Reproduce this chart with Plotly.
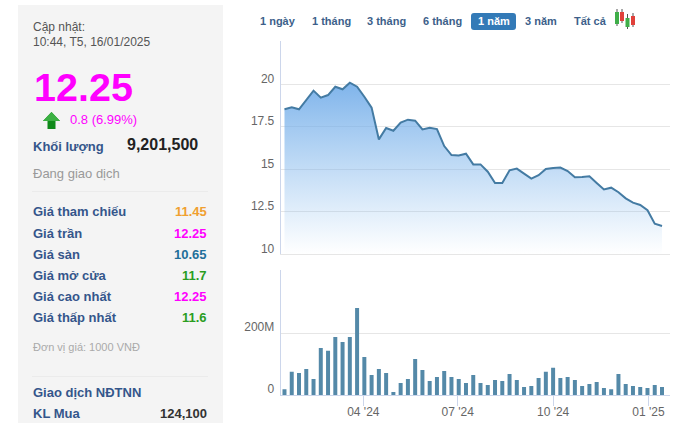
import plotly.graph_objects as go

W, H = 678, 423

# weekly sessions
dates = [
    "2024-01-16", "2024-01-23", "2024-01-30", "2024-02-06", "2024-02-13", "2024-02-20",
    "2024-02-27", "2024-03-05", "2024-03-12", "2024-03-19", "2024-03-26", "2024-04-02",
    "2024-04-09", "2024-04-16", "2024-04-23", "2024-04-30", "2024-05-07", "2024-05-14",
    "2024-05-21", "2024-05-28", "2024-06-04", "2024-06-11", "2024-06-18", "2024-06-25",
    "2024-07-02", "2024-07-09", "2024-07-16", "2024-07-23", "2024-07-30", "2024-08-06",
    "2024-08-13", "2024-08-20", "2024-08-27", "2024-09-03", "2024-09-10", "2024-09-17",
    "2024-09-24", "2024-10-01", "2024-10-08", "2024-10-15", "2024-10-22", "2024-10-29",
    "2024-11-05", "2024-11-12", "2024-11-19", "2024-11-26", "2024-12-03", "2024-12-10",
    "2024-12-17", "2024-12-24", "2024-12-31", "2025-01-07", "2025-01-14",
]
prices = [
    18.53, 18.65, 18.53, 19.08, 19.63, 19.22, 19.37, 19.86, 19.71, 20.10, 19.86,
    19.27, 18.63, 16.76, 17.43, 17.27, 17.75, 17.92, 17.86, 17.35, 17.45, 17.37,
    16.37, 15.84, 15.82, 15.92, 15.29, 15.29, 14.86, 14.20, 14.20, 14.94, 15.04,
    14.75, 14.45, 14.65, 15.02, 15.08, 15.10, 14.90, 14.53, 14.55, 14.59, 14.20,
    13.82, 13.92, 13.65, 13.29, 13.04, 12.90, 12.59, 11.80, 11.67,
]
volumes = [
    19e6, 75e6, 71e6, 84e6, 52e6, 152e6, 143e6, 188e6, 172e6, 188e6, 282e6,
    123e6, 65e6, 84e6, 71e6, 10e6, 39e6, 52e6, 117e6, 81e6, 45e6, 58e6,
    78e6, 58e6, 52e6, 39e6, 65e6, 39e6, 32e6, 49e6, 45e6, 68e6, 49e6,
    26e6, 29e6, 55e6, 75e6, 88e6, 55e6, 58e6, 49e6, 29e6, 36e6, 42e6,
    23e6, 19e6, 68e6, 36e6, 29e6, 26e6, 23e6, 32e6, 26e6,
]
price_ticks = [10, 12.5, 15, 17.5, 20, 22.5]
price_labels = ["10", "12.5", "15", "17.5", "20", ""]
volume_ticks = [0, 200e6, 402e6]
volume_labels = ["0", "200M", ""]

range_buttons = ["1 ngày", "1 tháng", "3 tháng", "6 tháng", "1 năm", "3 năm", "Tất cả"]
button_x = [278, 331, 386, 442, 493.5, 541, 590]

row_labels = ["Giá tham chiếu", "Giá trần", "Giá sàn", "Giá mở cửa", "Giá cao nhất", "Giá thấp nhất"]
row_values = ["11.45", "12.25", "10.65", "11.7", "12.25", "11.6"]
row_colors = ["#f0a030", "#ff00ff", "#1f6f9a", "#2a9d1f", "#ff00ff", "#2a9d1f"]
row_y = [212, 233, 254, 275, 296, 317]

FONT = "Liberation Sans"
LABEL = "#34568b"


def px(x):
    return x / W


def py(y):
    return 1 - y / H


def label(x, y, text, size=13, color="#333", bold=False, anchor="left"):
    if bold:
        text = f"<b>{text}</b>"
    return dict(
        x=px(x), y=py(y), xref="paper", yref="paper", text=text, showarrow=False,
        xanchor=anchor, yanchor="middle", align=anchor, borderpad=0,
        font=dict(family=FONT, size=size, color=color),
    )


def rect(x0, y0, x1, y1, color):
    return dict(
        type="rect", xref="paper", yref="paper", x0=px(x0), x1=px(x1), y0=py(y0), y1=py(y1),
        fillcolor=color, line_width=0, layer="below",
    )


def poly(points, color):
    d = "M" + " L".join(f"{px(x):.5f},{py(y):.5f}" for x, y in points) + " Z"
    return dict(type="path", xref="paper", yref="paper", path=d, fillcolor=color, line_width=0)


def round_rect(x0, y0, x1, y1, r, color):
    a, b, c, e = px(x0), px(x1), py(y0), py(y1)
    rx, ry = r / W, r / H
    d = (
        f"M{a+rx:.5f},{c:.5f} L{b-rx:.5f},{c:.5f} Q{b:.5f},{c:.5f} {b:.5f},{c-ry:.5f} "
        f"L{b:.5f},{e+ry:.5f} Q{b:.5f},{e:.5f} {b-rx:.5f},{e:.5f} "
        f"L{a+rx:.5f},{e:.5f} Q{a:.5f},{e:.5f} {a:.5f},{e+ry:.5f} "
        f"L{a:.5f},{c-ry:.5f} Q{a:.5f},{c:.5f} {a+rx:.5f},{c:.5f} Z"
    )
    return dict(type="path", xref="paper", yref="paper", path=d, fillcolor=color, line_width=0)


fig = go.Figure()
fig.add_trace(go.Scatter(
    x=dates, y=prices, mode="lines", xaxis="x", yaxis="y",
    line=dict(color="#447ba3", width=2),
    fill="tozeroy",
    fillgradient=dict(
        type="vertical", start=20.5, stop=10,
        colorscale=[[0, "rgba(110,170,232,0.92)"], [1, "rgba(124,181,236,0)"]],
    ),
))
fig.add_trace(go.Bar(
    x=dates, y=volumes, xaxis="x2", yaxis="y2", marker=dict(color="#5489a8", line_width=0),
))

x_range = ["2024-01-12 08:24", "2025-01-21 10:00"]
fig.update_layout(
    width=W, height=H, margin=dict(l=0, r=0, t=0, b=0, autoexpand=False),
    paper_bgcolor="white", plot_bgcolor="white", showlegend=False, bargap=0.45,
    font=dict(family=FONT, size=12, color="#666"),
    xaxis=dict(
        domain=[px(280.7), px(669.7)], range=x_range, type="date", anchor="y",
        showticklabels=False, ticks="", showgrid=False, showline=True, linecolor="#e6e6e6",
        dtick="M3", tick0="2024-01-01", automargin=False,
    ),
    yaxis=dict(
        domain=[py(254.3), py(41)], range=[10, 22.55], tickvals=price_ticks, ticktext=price_labels,
        showgrid=True, gridcolor="#e6e6e6", gridwidth=1, zeroline=False, showline=True,
        linecolor="#ccd6eb", ticks="", ticklabelshift=-6, ticklabelstandoff=3, automargin=False,
        tickfont=dict(family=FONT, size=12, color="#666"),
    ),
    xaxis2=dict(
        domain=[px(280.7), px(669.7)], range=x_range, type="date", anchor="y2",
        dtick="M3", tick0="2024-01-01", tickformat="%m '%y", ticks="outside", ticklen=10,
        tickcolor="#ccd6eb", tickwidth=1, showgrid=False, showline=True, linecolor="#ccd6eb",
        ticklabelstandoff=-4, tickfont=dict(family=FONT, size=12, color="#666"), automargin=False,
    ),
    yaxis2=dict(
        domain=[py(395), py(270.3)], range=[0, 404e6], tickvals=volume_ticks, ticktext=volume_labels,
        showgrid=True, gridcolor="#e6e6e6", gridwidth=1, zeroline=False, showline=True,
        linecolor="#ccd6eb", ticks="", ticklabelshift=-6, ticklabelstandoff=3, automargin=False,
        tickfont=dict(family=FONT, size=12, color="#666"),
    ),
)

shapes = [
    rect(18, 5, 223, 423, "#f4f4f4"),
    rect(32, 191, 208, 192, "#ebebeb"),
    rect(32, 376, 208, 377, "#ebebeb"),
    round_rect(471, 13, 516, 30, 3, "#337ab7"),
    # up arrow
    poly([(51.5, 112), (60, 121), (55.5, 121), (55.5, 129), (47.5, 129), (47.5, 121), (43, 121)], "#0f8a1a"),
    poly([(51.5, 112), (60, 121), (43, 121)], "#3cb043"),
]
# candlestick icon
for cx, top, body0, body1, bottom, col in [
    (617, 9, 12, 24, 26, "#3fae49"),
    (622, 9, 12, 21, 23, "#e0403a"),
    (627.5, 14, 18, 27, 29, "#3fae49"),
    (633, 13, 16, 25, 27, "#e0403a"),
]:
    shapes.append(rect(cx - 0.5, top, cx + 0.5, bottom, "#555"))
    shapes.append(rect(cx - 2, body0, cx + 2, body1, col))
for s in shapes:
    s["layer"] = "above" if s["fillcolor"] not in ("#f4f4f4", "#ebebeb") else "below"
fig.update_layout(shapes=shapes)

notes = [
    label(32, 27, "Cập nhật:", 12, "#555"),
    label(32, 42, "10:44, T5, 16/01/2025", 12, "#555"),
    label(32.5, 87, "12.25", 39.5, "#ff00ff", True),
    label(69, 119, "0.8 (6.99%)", 13, "#ff00ff"),
    label(32, 146, "Khối lượng", 13, LABEL, True),
    label(126, 144, "9,201,500", 16, "#222", True),
    label(32, 173, "Đang giao dịch", 13, "#999"),
    label(32, 347, "Đơn vị giá: 1000 VNĐ", 11, "#aaa"),
    label(32, 392, "Giao dịch NĐTNN", 13, LABEL, True),
    label(32, 413, "KL Mua", 13, LABEL, True),
    label(208.5, 413, "124,100", 13, "#333", True, "right"),
]
for name, val, col, y in zip(row_labels, row_values, row_colors, row_y):
    notes.append(label(32, y, name, 13, LABEL, True))
    notes.append(label(208.5, y, val, 13, col, True, "right"))
for name, x in zip(range_buttons, button_x):
    col = "white" if name == "1 năm" else "#3d5f8a"
    notes.append(label(x, 21, name, 11, col, True, "center"))
fig.update_layout(annotations=notes)

fig.write_html(
    "out.html",
    config={"displayModeBar": False},
    post_script="document.body.style.margin='0';document.documentElement.style.overflow='hidden';",
)
